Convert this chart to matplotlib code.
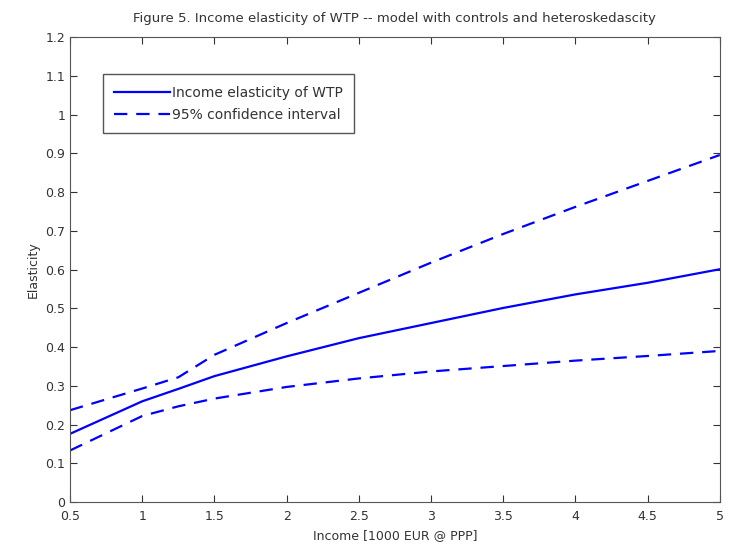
import matplotlib.pyplot as plt
import numpy as np

income = [0.5, 1.0, 1.25, 1.5, 2.0, 2.5, 3.0, 3.5, 4.0, 4.5, 5.0]
elasticity = [0.176, 0.260, 0.292, 0.325, 0.376, 0.423, 0.462, 0.501, 0.536, 0.566, 0.601]
upper_ci = [0.237, 0.293, 0.322, 0.380, 0.462, 0.540, 0.618, 0.692, 0.762, 0.829, 0.896]
lower_ci = [0.133, 0.222, 0.247, 0.267, 0.297, 0.319, 0.337, 0.351, 0.365, 0.377, 0.390]

fig = plt.figure(figsize=(7.3, 5.48), dpi=100)
ax = fig.add_axes([0.096, 0.084, 0.890, 0.848])

ax.plot(income, elasticity, "-", color="#0000ff", lw=1.6, label="Income elasticity of WTP")
ax.plot(income, upper_ci, "--", color="#0000ff", lw=1.6, dashes=(6, 4), label="95% confidence interval")
ax.plot(income, lower_ci, "--", color="#0000ff", lw=1.6, dashes=(6, 4))

ax.set_xlim(0.5, 5)
ax.set_ylim(0, 1.2)
ax.set_xticks(np.arange(0.5, 5.01, 0.5))
ax.set_xticklabels(["0.5", "1", "1.5", "2", "2.5", "3", "3.5", "4", "4.5", "5"])
ax.set_yticks(np.arange(0, 1.21, 0.1))
ax.set_yticklabels(["0", "0.1", "0.2", "0.3", "0.4", "0.5", "0.6", "0.7", "0.8", "0.9", "1", "1.1", "1.2"])
ax.tick_params(direction="in", top=True, right=True, labelsize=9, colors="#333333", length=5)
ax.tick_params(axis="x", pad=6)
for s in ax.spines.values():
    s.set_color("#555555")

ax.set_xlabel("Income [1000 EUR @ PPP]", fontsize=9, color="#333333")
ax.set_ylabel("Elasticity", fontsize=9, color="#333333")
ax.set_title("Figure 5. Income elasticity of WTP -- model with controls and heteroskedascity",
             fontsize=9.5, color="#333333", pad=11)

leg = ax.legend(loc="upper left", bbox_to_anchor=(0.04, 0.935), fontsize=10,
                fancybox=False, framealpha=1, edgecolor="#555555", handlelength=4,
                handletextpad=0.2, borderpad=0.8, labelspacing=0.6)
for t in leg.get_texts():
    t.set_color("#333333")

fig.savefig("out.png", dpi=100)
